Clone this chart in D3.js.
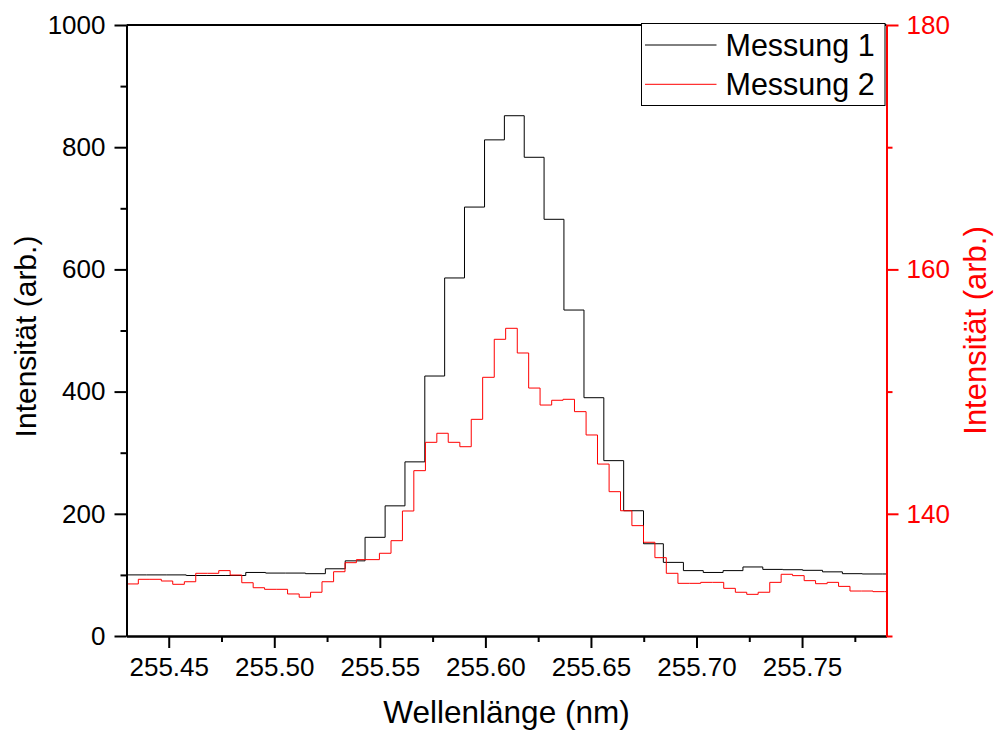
<!DOCTYPE html>
<html>
<head>
<meta charset="utf-8">
<script src="https://cdn.jsdelivr.net/npm/d3@7"></script>
<style>
body { margin: 0; background: #fff; }
svg { font-family: "Liberation Sans", Arial, sans-serif; }
</style>
</head>
<body>
<script>
// Messung 1 (left axis) - left bin edges in nm and intensities
var wlBlack = [255.4300, 255.4394, 255.4488, 255.4583, 255.4677, 255.4771, 255.4865, 255.4959, 255.5054, 255.5148,
    255.5242, 255.5336, 255.5430, 255.5525, 255.5619, 255.5713, 255.5807, 255.5901, 255.5996, 255.6090,
    255.6184, 255.6278, 255.6372, 255.6467, 255.6561, 255.6655, 255.6749, 255.6843, 255.6938, 255.7032,
    255.7126, 255.7220, 255.7314, 255.7409, 255.7503, 255.7597, 255.7691, 255.7785, 255.7880]
var intBlack = [100, 100, 100, 99, 99, 99, 104, 103, 103, 102,
    110, 123, 161.5, 213, 285, 425.5, 586, 702, 812, 851.5,
    783.5, 682, 533.5, 390, 287, 205, 151, 120.5, 107, 104,
    107, 113, 109, 108.5, 107.5, 105, 102, 101.5, 101.5]

// Messung 2 (right axis)
var wlRed = [255.4302, 255.4356, 255.4411, 255.4465, 255.4519, 255.4574, 255.4628, 255.4683, 255.4737, 255.4791,
    255.4846, 255.4900, 255.4954, 255.5009, 255.5063, 255.5118, 255.5172, 255.5226, 255.5281, 255.5335,
    255.5389, 255.5444, 255.5498, 255.5553, 255.5607, 255.5661, 255.5716, 255.5770, 255.5824, 255.5879,
    255.5933, 255.5987, 255.6042, 255.6096, 255.6151, 255.6205, 255.6259, 255.6314, 255.6368, 255.6422,
    255.6477, 255.6531, 255.6586, 255.6640, 255.6694, 255.6749, 255.6803, 255.6857, 255.6912, 255.6966,
    255.7020, 255.7075, 255.7129, 255.7184, 255.7238, 255.7292, 255.7347, 255.7401, 255.7455, 255.7510,
    255.7564, 255.7619, 255.7673, 255.7727, 255.7782, 255.7836, 255.7890]
var intRed = [134.26, 134.64, 134.64, 134.5, 134.23, 134.44, 135.13, 135.13, 135.35, 134.99,
    134.36, 133.95, 133.82, 133.82, 133.44, 133.17, 133.58, 134.44, 135.26, 136.0,
    136.25, 136.25, 136.77, 137.8, 140.23, 143.53, 145.85, 146.59, 145.85, 145.49,
    147.73, 151.17, 154.28, 155.18, 153.16, 150.29, 148.9, 149.29, 149.37, 148.36,
    146.45, 144.07, 141.81, 140.25, 139.03, 137.67, 136.41, 135.13, 134.31, 134.31,
    134.39, 134.39, 133.9, 133.58, 133.41, 133.58, 134.39, 135.05, 134.94, 134.53,
    134.28, 134.39, 134.06, 133.68, 133.68, 133.63, 133.63]

var xTicks = [255.45, 255.50, 255.55, 255.60, 255.65, 255.70, 255.75]
var xMinor = [255.475, 255.525, 255.575, 255.625, 255.675, 255.725, 255.775]
var yTicksLeft = [0, 200, 400, 600, 800, 1000]
var yMinorLeft = [100, 300, 500, 700, 900]
var yTicksRight = [140, 160, 180]
var yMinorRight = [130, 150, 170]
var seriesNames = ["Messung 1", "Messung 2"]
var seriesColors = ["#000000", "#ff0000"]

const width = 998, height = 733;
margin = ({top: 25, right: 111.5, bottom: 97, left: 126.5})

const x = d3.scaleLinear().domain([255.43, 255.79]).range([margin.left, width - margin.right]);
const yL = d3.scaleLinear().domain([0, 1000]).range([height - margin.bottom, margin.top]);
const yR = d3.scaleLinear().domain([130, 180]).range([height - margin.bottom, margin.top]);

const svg = d3.select("body").append("svg")
    .attr("width", width)
    .attr("height", height);

svg.append("clipPath").attr("id", "plotclip")
    .append("rect")
    .attr("x", margin.left).attr("y", margin.top)
    .attr("width", x.range()[1] - x.range()[0])
    .attr("height", yL.range()[0] - yL.range()[1]);

// step lines, last bin is carried to the right edge
function stepData(xs, ys) {
    var pts = xs.map((d, i) => [d, ys[i]]);
    pts.push([x.domain()[1], ys[ys.length - 1]]);
    return pts;
}

const lineL = d3.line().x(d => x(d[0])).y(d => yL(d[1])).curve(d3.curveStepAfter);
const lineR = d3.line().x(d => x(d[0])).y(d => yR(d[1])).curve(d3.curveStepAfter);

const plot = svg.append("g").attr("clip-path", "url(#plotclip)");
plot.append("path")
    .attr("d", lineL(stepData(wlBlack, intBlack)))
    .attr("fill", "none")
    .attr("stroke", seriesColors[0])
    .attr("stroke-width", 1);
plot.append("path")
    .attr("d", lineR(stepData(wlRed, intRed)))
    .attr("fill", "none")
    .attr("stroke", seriesColors[1])
    .attr("stroke-width", 1);

function styleAxis(g, col, fsize) {
    g.select(".domain").attr("stroke", col).attr("stroke-width", 2);
    g.selectAll(".tick line").attr("stroke", col).attr("stroke-width", 2);
    g.selectAll(".tick text").attr("fill", col).style("font-size", fsize + "px");
    g.attr("font-family", null);
}

// top frame line
svg.append("line")
    .attr("x1", x.range()[0]).attr("x2", x.range()[1])
    .attr("y1", margin.top).attr("y2", margin.top)
    .attr("stroke", "#000").attr("stroke-width", 2);

// bottom axis (minor first, then major with labels)
svg.append("g")
    .attr("transform", `translate(0,${height - margin.bottom})`)
    .call(d3.axisBottom(x).tickValues(xMinor).tickSize(6).tickSizeOuter(0).tickFormat(""))
    .call(g => styleAxis(g, "#000", 26));
svg.append("g")
    .attr("transform", `translate(0,${height - margin.bottom})`)
    .call(d3.axisBottom(x).tickValues(xTicks).tickSize(12).tickSizeOuter(0).tickPadding(10).tickFormat(d3.format(".2f")))
    .call(g => styleAxis(g, "#000", 26));

// left axis
svg.append("g")
    .attr("transform", `translate(${margin.left},0)`)
    .call(d3.axisLeft(yL).tickValues(yMinorLeft).tickSize(6).tickSizeOuter(0).tickFormat(""))
    .call(g => styleAxis(g, "#000", 26));
svg.append("g")
    .attr("transform", `translate(${margin.left},0)`)
    .call(d3.axisLeft(yL).tickValues(yTicksLeft).tickSize(12).tickSizeOuter(0).tickPadding(9).tickFormat(d3.format("d")))
    .call(g => styleAxis(g, "#000", 26));

// right axis, red
svg.append("g")
    .attr("transform", `translate(${width - margin.right},0)`)
    .call(d3.axisRight(yR).tickValues(yMinorRight).tickSize(6).tickSizeOuter(0).tickFormat(""))
    .call(g => styleAxis(g, "#ff0000", 26));
svg.append("g")
    .attr("transform", `translate(${width - margin.right},0)`)
    .call(d3.axisRight(yR).tickValues(yTicksRight).tickSize(12).tickSizeOuter(0).tickPadding(8).tickFormat(d3.format("d")))
    .call(g => styleAxis(g, "#ff0000", 26));

// axis titles
svg.append("text")
    .attr("x", (x.range()[0] + x.range()[1]) / 2)
    .attr("y", 723)
    .attr("text-anchor", "middle")
    .style("font-size", "31.5px")
    .text("Wellenlänge (nm)");

svg.append("text")
    .attr("transform", `translate(36,${(yL.range()[0] + yL.range()[1]) / 2 + 6}) rotate(-90)`)
    .attr("text-anchor", "middle")
    .style("font-size", "30px")
    .text("Intensität (arb.)");

svg.append("text")
    .attr("transform", `translate(986,${(yR.range()[0] + yR.range()[1]) / 2}) rotate(-90)`)
    .attr("text-anchor", "middle")
    .attr("fill", "#ff0000")
    .style("font-size", "31px")
    .text("Intensität (arb.)");

// legend box
const legend = svg.append("g").attr("transform", "translate(641.5,23.5)");
legend.append("rect")
    .attr("width", 243.5).attr("height", 82)
    .attr("fill", "#fff").attr("stroke", "#000").attr("stroke-width", 1);
const items = legend.selectAll("g.item")
    .data(seriesNames)
    .join("g")
    .attr("class", "item")
    .attr("transform", (d, i) => `translate(0,${21.5 + i * 39.3})`);
items.append("line")
    .attr("x1", 3.5).attr("x2", 75)
    .attr("stroke", (d, i) => seriesColors[i])
    .attr("stroke-width", 1);
items.append("text")
    .attr("x", 84)
    .attr("y", 10.5)
    .style("font-size", "30.5px")
    .text(d => d);
</script>
</body>
</html>
